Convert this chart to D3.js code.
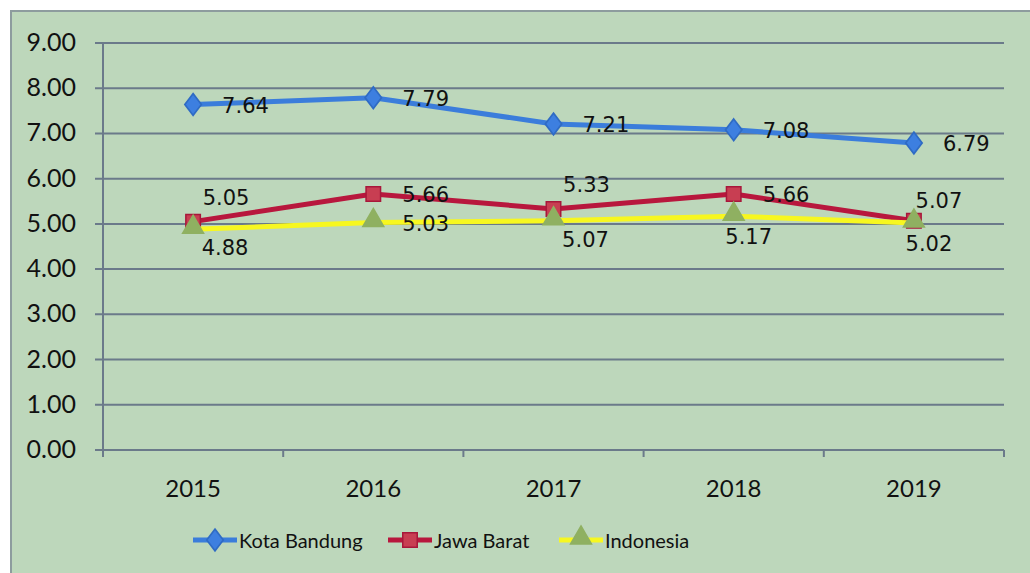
<!DOCTYPE html>
<html>
<head>
<meta charset="utf-8">
<script src="https://cdn.jsdelivr.net/npm/d3@7"></script>
<style>
  body { margin: 0; background: #fff; }
</style>
</head>
<body>
<div id="chart"></div>
<script>
// data
var years = ["2015", "2016", "2017", "2018", "2019"];
var kotaBandung = [7.64, 7.79, 7.21, 7.08, 6.79];
var jawaBarat = [5.05, 5.66, 5.33, 5.66, 5.07];
var indonesia = [4.88, 5.03, 5.07, 5.17, 5.02];
var yTicks = [0, 1, 2, 3, 4, 5, 6, 7, 8, 9];
var seriesNames = ["Kota Bandung", "Jawa Barat", "Indonesia"];

// where each value label sits relative to its marker
var labelPos = [
  ["right", "right", "right", "right", "right"],
  ["aboveRight", "right", "aboveRight", "right", "above"],
  ["belowRight", "right", "belowRight", "below", "below"]
];

var W = 1030, H = 573;
var margin = {top: 43, left: 103, right: 26, bottom: 123};

var svg = d3.select("#chart").append("svg")
  .attr("width", W).attr("height", H);

// chart area
svg.append("rect")
  .attr("x", 11).attr("y", 11)
  .attr("width", W + 20).attr("height", H + 20)
  .attr("fill", "#bdd7bb")
  .attr("stroke", "#8d9c9e")
  .attr("stroke-width", 2);

var x = d3.scaleBand()
  .domain(years)
  .range([margin.left, W - margin.right])
  .padding(0);

var y = d3.scaleLinear()
  .domain([0, 9])
  .range([H - margin.bottom, margin.top]);

var gridColor = "#6b7a8a";

// gridlines
svg.append("g")
  .selectAll("line")
  .data(yTicks)
  .enter().append("line")
    .attr("x1", margin.left - 8)
    .attr("x2", W - margin.right)
    .attr("y1", function(d) { return y(d); })
    .attr("y2", function(d) { return y(d); })
    .attr("stroke", gridColor)
    .attr("stroke-width", 2);

// y axis line
svg.append("line")
  .attr("x1", margin.left).attr("x2", margin.left)
  .attr("y1", y(9)).attr("y2", y(0) + 7)
  .attr("stroke", gridColor).attr("stroke-width", 2);

// x ticks on category boundaries
var bounds = years.map(function(d) { return x(d); }).concat([x(years[4]) + x.bandwidth()]);
svg.append("g")
  .selectAll("line")
  .data(bounds.slice(1))
  .enter().append("line")
    .attr("x1", function(d) { return d; })
    .attr("x2", function(d) { return d; })
    .attr("y1", y(0))
    .attr("y2", y(0) + 7)
    .attr("stroke", gridColor)
    .attr("stroke-width", 2);

// tick labels
svg.append("g")
  .selectAll("text")
  .data(yTicks)
  .enter().append("text")
    .attr("x", 76)
    .attr("y", function(d) { return y(d) + 8; })
    .attr("text-anchor", "end")
    .style("font", "25px Lato, sans-serif")
    .style("fill", "#111")
    .text(function(d) { return d3.format(".2f")(d); });

svg.append("g")
  .selectAll("text")
  .data(years)
  .enter().append("text")
    .attr("x", function(d) { return x(d) + x.bandwidth() / 2; })
    .attr("y", 497)
    .attr("text-anchor", "middle")
    .style("font", "24px Lato, sans-serif")
    .style("fill", "#111")
    .text(function(d) { return d; });

var series = [
  {name: seriesNames[0], values: kotaBandung, line: "#3b7ddb", fill: "#3d7fe0", stroke: "#2f6bc4", shape: d3.symbolDiamond, size: 150},
  {name: seriesNames[1], values: jawaBarat, line: "#b8173d", fill: "#c83e52", stroke: "#a8173a", shape: d3.symbolSquare, size: 210},
  {name: seriesNames[2], values: indonesia, line: "#f7f720", fill: "#8fb061", stroke: "#8fb061", shape: d3.symbolTriangle, size: 190}
];

function cx(i) { return x(years[i]) + x.bandwidth() / 2; }

var line = d3.line()
  .x(function(d, i) { return cx(i); })
  .y(function(d) { return y(d); });

function marker(g, s, px, py) {
  var sym = d3.symbol().type(s.shape).size(s.size);
  var t = "translate(" + px + "," + py + ")";
  if (s.shape === d3.symbolDiamond) t += " scale(1.25,0.95)";
  if (s.shape === d3.symbolTriangle) t += " translate(0,-2)";
  g.append("path")
    .attr("d", sym())
    .attr("transform", t)
    .attr("fill", s.fill)
    .attr("stroke", s.stroke)
    .attr("stroke-width", 1.5);
}

series.forEach(function(s) {
  svg.append("path")
    .datum(s.values)
    .attr("d", line)
    .attr("fill", "none")
    .attr("stroke", s.line)
    .attr("stroke-width", 5)
    .attr("stroke-linejoin", "round");
  var g = svg.append("g");
  s.values.forEach(function(v, i) { marker(g, s, cx(i), y(v)); });
});

// value labels
var offsets = {
  right: [29, 8, "start"],
  aboveRight: [33, -17, "middle"],
  above: [25, -13, "middle"],
  belowRight: [32, 26, "middle"],
  below: [15, 28, "middle"]
};
series.forEach(function(s, k) {
  svg.append("g")
    .selectAll("text")
    .data(s.values)
    .enter().append("text")
      .attr("x", function(d, i) { return cx(i) + offsets[labelPos[k][i]][0]; })
      .attr("y", function(d, i) { return y(d) + offsets[labelPos[k][i]][1]; })
      .attr("text-anchor", function(d, i) { return offsets[labelPos[k][i]][2]; })
      .style("font", "21px 'DejaVu Sans', sans-serif")
      .style("fill", "#111")
      .text(function(d) { return d3.format(".2f")(d); });
});

// legend
var legendX = [193, 388, 559];
var legend = svg.append("g");
series.forEach(function(s, k) {
  var lx = legendX[k], ly = 540;
  legend.append("line")
    .attr("x1", lx).attr("x2", lx + 44)
    .attr("y1", ly).attr("y2", ly)
    .attr("stroke", s.line).attr("stroke-width", 5);
  marker(legend, s, lx + 22, ly);
  legend.append("text")
    .attr("x", lx + 46)
    .attr("y", ly + 8)
    .style("font", "20px Lato, sans-serif")
    .style("fill", "#111")
    .text(s.name);
});
</script>
</body>
</html>
